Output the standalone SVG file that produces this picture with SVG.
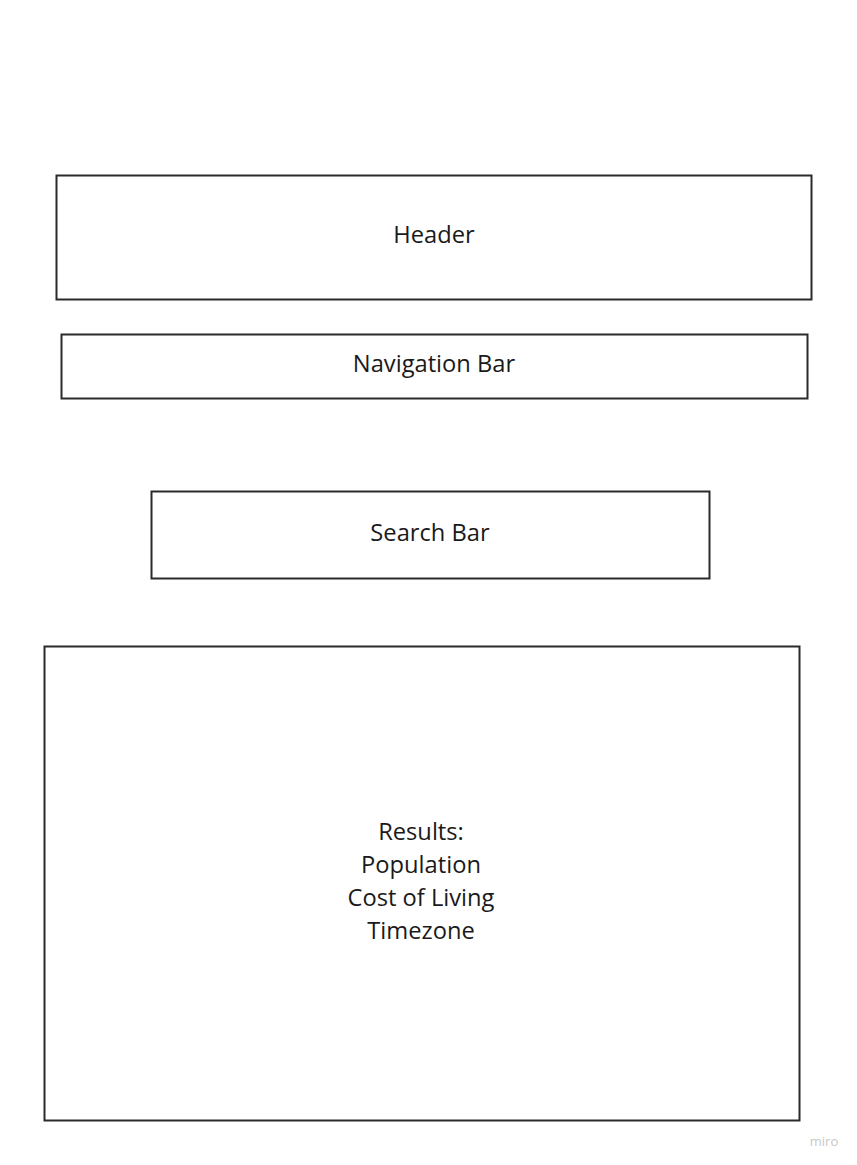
<svg xmlns="http://www.w3.org/2000/svg" width="857" height="1165" viewBox="0 0 857 1165">
<style>
.box{fill:#ffffff;stroke:#2b2b2b;stroke-width:2}
.lbl{font-family:"Open Sans","Noto Sans",sans-serif;font-size:23.7px;fill:#1a1a1a;text-anchor:middle;dominant-baseline:central}
.wm{font-family:"Open Sans","Noto Sans",sans-serif;font-size:13px;fill:#c8c8c8;text-anchor:middle;dominant-baseline:central}
</style>
<rect x="0" y="0" width="857" height="1165" fill="#ffffff"/>
<g id="header">
<rect class="box" x="56.5" y="175.5" width="755" height="124"/>
<text class="lbl" x="434" y="234">Header</text>
</g>
<g id="navigation-bar">
<rect class="box" x="61.5" y="334.5" width="746" height="64"/>
<text class="lbl" x="434" y="363">Navigation Bar</text>
</g>
<g id="search-bar">
<rect class="box" x="151.5" y="491.5" width="558" height="87"/>
<text class="lbl" x="430" y="532">Search Bar</text>
</g>
<g id="results">
<rect class="box" x="44.5" y="646.5" width="755" height="474"/>
<text class="lbl" x="421" y="831">Results:</text>
<text class="lbl" x="421" y="864">Population</text>
<text class="lbl" x="421" y="897">Cost of Living</text>
<text class="lbl" x="421" y="930">Timezone</text>
</g>
<g id="connectors"></g>
<text class="wm" x="824" y="1141">miro</text>
</svg>
